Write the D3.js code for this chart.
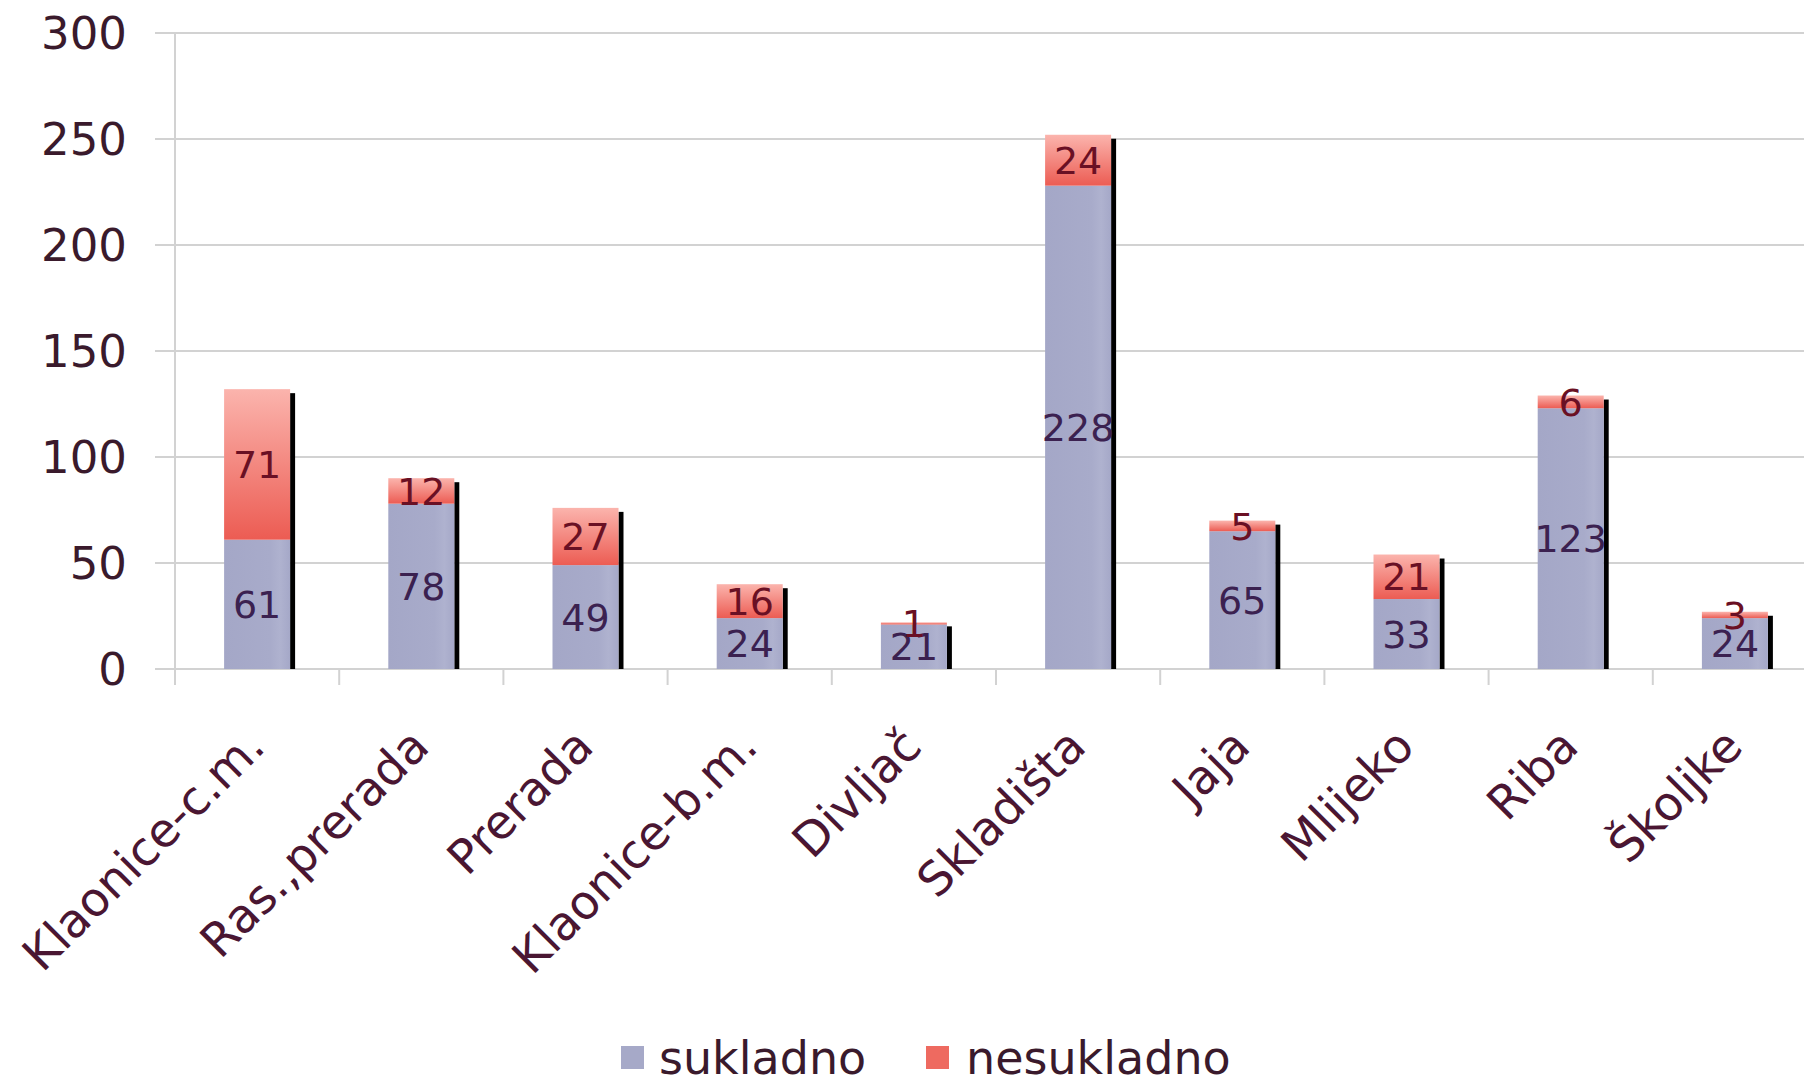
<!DOCTYPE html>
<html><head><meta charset="utf-8">
<script src="https://cdn.jsdelivr.net/npm/d3@7"></script>
<style>html,body{margin:0;padding:0;background:#fff;overflow:hidden}</style>
</head><body>
<svg id="c" width="1804" height="1086"></svg>
<script>
const categories = ["Klaonice-c.m.","Ras.,prerada","Prerada","Klaonice-b.m.","Divljač","Skladišta","Jaja","Mlijeko","Riba","Školjke"];
const sukladno   = [61,78,49,24,21,228,65,33,123,24];
const nesukladno = [71,12,27,16,1,24,5,21,6,3];
const seriesNames = ["sukladno","nesukladno"];
const yTicks = [0,50,100,150,200,250,300];

const svg = d3.select("#c");
const FONT = "DejaVu Sans, Verdana, sans-serif";
const x0 = 175, bandW = 164.2;
const x = d3.scaleBand().domain(categories).range([x0, x0 + bandW*categories.length]).paddingInner(0).paddingOuter(0);
const y = d3.scaleLinear().domain([0,300]).range([669,33]);

const defs = svg.append("defs");
const gB = defs.append("linearGradient").attr("id","gB").attr("x1",0).attr("x2",1).attr("y1",0).attr("y2",0);
[[0,"#A4A7C7"],[0.7,"#A8ABCA"],[0.85,"#AFB2CF"],[1,"#A5A8C8"]].forEach(s=>gB.append("stop").attr("offset",s[0]).attr("stop-color",s[1]));
const gR = defs.append("linearGradient").attr("id","gR").attr("x1",0).attr("x2",0).attr("y1",0).attr("y2",1);
[[0,"#FBB4AD"],[1,"#EC5C53"]].forEach(s=>gR.append("stop").attr("offset",s[0]).attr("stop-color",s[1]));

// gridlines
svg.append("g").selectAll("line").data(yTicks).join("line")
  .attr("x1",155).attr("x2",1804).attr("y1",d=>y(d)).attr("y2",d=>y(d))
  .attr("stroke","#d2d2d2").attr("stroke-width",2);
// y axis line
svg.append("line").attr("x1",x0).attr("x2",x0).attr("y1",y(300)).attr("y2",y(0)).attr("stroke","#d2d2d2").attr("stroke-width",2);
// category ticks
svg.append("g").selectAll("line").data(categories).join("line")
  .attr("x1",d=>x(d)).attr("x2",d=>x(d)).attr("y1",y(0)).attr("y2",y(0)+16)
  .attr("stroke","#d2d2d2").attr("stroke-width",2);

// y labels
svg.append("g").selectAll("text").data(yTicks).join("text")
  .attr("x",127).attr("y",d=>y(d)).attr("dy","0.36em").attr("text-anchor","end")
  .attr("font-family",FONT).attr("font-size",45).attr("fill","#3a1a2c").text(d=>d);

const barW = 66;
const stack = categories.map((c,i)=>({c, s:sukladno[i], n:nesukladno[i]}));
const bx = d => x(d.c) + x.bandwidth()/2 - barW/2;

// shadows
svg.append("g").selectAll("rect").data(stack).join("rect")
  .attr("x",d=>bx(d)+barW).attr("width",5)
  .attr("y",d=>y(d.s+d.n)+4).attr("height",d=>y(0)-y(d.s+d.n)-4)
  .attr("fill","#000");
// sukladno bars
svg.append("g").selectAll("rect").data(stack).join("rect")
  .attr("x",bx).attr("width",barW)
  .attr("y",d=>y(d.s)).attr("height",d=>y(0)-y(d.s)).attr("fill","url(#gB)");
// nesukladno bars
svg.append("g").selectAll("rect").data(stack).join("rect")
  .attr("x",bx).attr("width",barW)
  .attr("y",d=>y(d.s+d.n)).attr("height",d=>y(d.s)-y(d.s+d.n)).attr("fill","url(#gR)");

// value labels
const lab = svg.append("g").attr("font-family",FONT).attr("font-size",38).attr("text-anchor","middle");
lab.selectAll("text.s").data(stack).join("text").attr("class","s")
  .attr("x",d=>x(d.c)+x.bandwidth()/2).attr("y",d=>(y(0)+y(d.s))/2).attr("dy","0.36em")
  .attr("fill","#3b2150").text(d=>d.s);
lab.selectAll("text.n").data(stack).join("text").attr("class","n")
  .attr("x",d=>x(d.c)+x.bandwidth()/2).attr("y",d=>(y(d.s)+y(d.s+d.n))/2).attr("dy","0.36em")
  .attr("fill","#6a1024").text(d=>d.n);

// x labels
svg.append("g").selectAll("text").data(categories).join("text")
  .attr("transform",d=>`translate(${x(d)+x.bandwidth()/2+10},${y(0)+80}) rotate(-45)`)
  .attr("text-anchor","end").attr("font-family",FONT).attr("font-size",47).attr("fill","#4a1632")
  .text(d=>d);

// legend
const leg = svg.append("g").attr("font-family",FONT).attr("font-size",46).attr("fill","#3a1a2c");
const legItems = [{name:seriesNames[0], fill:"#A6A9C8", sx:621, tx:659},{name:seriesNames[1], fill:"#EE6A60", sx:926, tx:966}];
legItems.forEach(it=>{
  leg.append("rect").attr("x",it.sx).attr("y",1046).attr("width",23).attr("height",23).attr("fill",it.fill);
  leg.append("text").attr("x",it.tx).attr("y",1074).text(it.name);
});
</script>
</body></html>
